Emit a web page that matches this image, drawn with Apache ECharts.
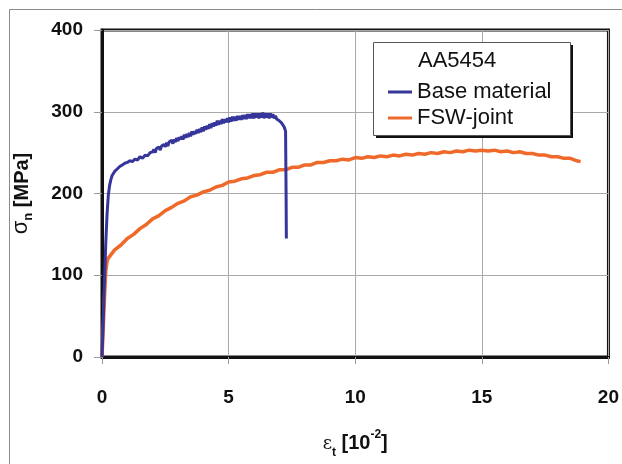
<!DOCTYPE html>
<html>
<head>
<meta charset="utf-8">
<script src="https://cdn.jsdelivr.net/npm/echarts@6/dist/echarts.min.js"></script>
<style>html,body{margin:0;padding:0;background:#fff;}#c{width:622px;height:464px;}</style>
</head>
<body>
<div id="c"></div>
<script>
// Base material (blue): strain [10^-2], stress [MPa]
var baseStrain = [0,0.05,0.1,0.15,0.2,0.25,0.3,0.35,0.4,0.5,0.6,0.7,0.8,0.9,
  1.0,1.1,1.2,1.3,1.4,1.5,1.6,1.7,1.8,1.9,
  2.00,2.05,2.10,2.15,2.20,2.25,2.30,2.35,2.40,2.45,2.50,2.55,2.60,2.65,2.70,2.75,2.80,2.85,2.90,2.95,
  3.00,3.05,3.10,3.15,3.20,3.25,3.30,3.35,3.40,3.45,3.50,3.55,3.60,3.65,3.70,3.75,3.80,3.85,3.90,3.95,
  4.00,4.05,4.10,4.15,4.20,4.25,4.30,4.35,4.40,4.45,4.50,4.55,4.60,4.65,4.70,4.75,4.80,4.85,4.90,4.95,
  5.00,5.05,5.10,5.15,5.20,5.25,5.30,5.35,5.40,5.45,5.50,5.55,5.60,5.65,5.70,5.75,5.80,5.85,5.90,5.95,
  6.00,6.05,6.10,6.15,6.20,6.25,6.30,6.35,6.40,6.45,6.50,6.55,6.60,6.65,6.70,6.75,6.80,6.85,6.90,6.95,
  7.00,7.10,7.20,7.25,7.27,7.28];
var baseStress = [0,45,95,140,175,198,210,217,222,227,230,233,235,237,
  238,240,239,242,241,245,243,247,246,250,
  251,254,250,255,253,257,253,258,256,260,257,262,258,263,261,265,261,266,263,268,
  264,269,266,270,266,272,268,273,269,274,270,276,272,276,273,278,274,279,275,281,
  276,282,278,283,279,285,280,286,282,287,283,289,284,289,285,291,286,291,287,292,
  287,293,288,294,289,294,289,295,290,295,290,296,291,296,291,297,292,297,292,298,
  292,298,293,298,292,298,293,299,292,298,293,298,292,298,293,297,292,295,291,292,
  289,286,281,276,200,145];

// FSW-joint (orange)
var fswStrain = [0,0.05,0.1,0.15,0.2,0.25,0.5,0.75,1.0,1.25,1.5,1.75,2.0,2.25,2.5,2.75,
  3.0,3.25,3.5,3.75,4.0,4.25,4.5,4.75,5.0,5.25,5.5,5.75,6.0,6.25,6.5,6.75,7.0,7.25,7.5,7.75,
  8.0,8.25,8.5,8.75,9.0,9.25,9.5,9.75,10.0,10.25,10.5,10.75,11.0,11.25,11.5,11.75,
  12.0,12.25,12.5,12.75,13.0,13.25,13.5,13.75,14.0,14.25,14.5,14.75,15.0,15.25,15.5,15.75,
  16.0,16.25,16.5,16.75,17.0,17.25,17.5,17.75,18.0,18.25,18.5,18.75,18.9];
var fswStress = [0,35,75,105,117,121,131,137,145,150,157,162,169,173,179,183,
  188,191,196,198,202,204,208,210,214,215,218,219,222,223,226,226,229,229,232,232,
  235,235,238,238,240,240,242,241,244,243,245,244,246,245,247,246,
  248,247,249,248,250,249,251,250,252,251,253,252,253,252,253,251,
  252,250,251,249,249,247,247,245,245,243,243,240,239];

var xTicks = [0, 5, 10, 15, 20];
var yTicks = [0, 100, 200, 300, 400];
var legendTitle = 'AA5454';
var seriesNames = ['Base material', 'FSW-joint'];
var colors = ['#35359b', '#ef6a2a'];

function pairs(xs, ys){ return xs.map(function(x,i){ return [x, ys[i]]; }); }

var chart = echarts.init(document.getElementById('c'), null, {renderer:'canvas'});
var F = '"Liberation Sans", Arial, sans-serif';
chart.setOption({
  backgroundColor: '#fff',
  animation: false,
  grid: {left: 102, right: 10, top: 30, bottom: 101, show: true, borderColor: '#111', borderWidth: 3, backgroundColor: 'transparent'},
  xAxis: {
    type: 'value', min: xTicks[0], max: xTicks[xTicks.length-1], interval: 5,
    axisLine: {show: true, onZero: false, lineStyle: {color: '#111', width: 3}},
    axisTick: {show: true, length: 7, lineStyle: {color: '#999'}},
    splitLine: {show: true, lineStyle: {color: '#aaa', width: 1}},
    axisLabel: {margin: 31, color: '#111', fontFamily: F, fontWeight: 'bold', fontSize: 19},
    name: '{e|ε}{s|t}{b| [10}{p|-2}{b|]}',
    nameLocation: 'middle', nameGap: 70,
    nameTextStyle: {
      rich: {
        e: {fontFamily: '"DejaVu Serif", serif', fontSize: 18, color: '#111', lineHeight: 26, verticalAlign: 'bottom'},
        s: {fontFamily: F, fontWeight: 'bold', fontSize: 12, color: '#111', lineHeight: 26, verticalAlign: 'bottom', padding: [0,0,-6,0]},
        b: {fontFamily: F, fontWeight: 'bold', fontSize: 20, color: '#111', lineHeight: 26, verticalAlign: 'bottom'},
        p: {fontFamily: F, fontWeight: 'bold', fontSize: 12, color: '#111', lineHeight: 26, verticalAlign: 'top', padding: [2,0,0,0]}
      }
    }
  },
  yAxis: {
    type: 'value', min: yTicks[0], max: yTicks[yTicks.length-1], interval: 100,
    axisLine: {show: true, onZero: false, lineStyle: {color: '#111', width: 3}},
    axisTick: {show: true, length: 8, lineStyle: {color: '#999'}},
    splitLine: {show: true, lineStyle: {color: '#aaa', width: 1}},
    axisLabel: {margin: 19, color: '#111', fontFamily: F, fontWeight: 'bold', fontSize: 19},
    name: '{g|σ}{s|n}{b| [MPa]}',
    nameLocation: 'middle', nameGap: 70, nameRotate: 90,
    nameTextStyle: {
      rich: {
        g: {fontFamily: F, fontSize: 22, color: '#111', lineHeight: 26, verticalAlign: 'bottom'},
        s: {fontFamily: F, fontWeight: 'bold', fontSize: 13, color: '#111', lineHeight: 26, verticalAlign: 'bottom', padding: [0,0,-3,0]},
        b: {fontFamily: F, fontWeight: 'bold', fontSize: 20, color: '#111', lineHeight: 26, verticalAlign: 'bottom'}
      }
    }
  },
  legend: {
    show: true, orient: 'vertical', left: 373, top: 44, z: 10,
    padding: [37, 18, 8, 15], itemGap: 4,
    itemWidth: 24, itemHeight: 3, icon: 'rect',
    backgroundColor: 'transparent', borderWidth: 0,
    textStyle: {fontFamily: F, fontSize: 22, color: '#111', lineHeight: 22},
    data: seriesNames
  },
  graphic: [
    {type: 'rect', left: 7, top: 7, z: -10, shape: {width: 640, height: 480},
     style: {fill: 'none', stroke: '#8a8a8a', lineWidth: 1}},
    {type: 'rect', left: 376, top: 45, z: 4,
     shape: {width: 197, height: 93},
     style: {fill: '#111'}},
    {type: 'rect', left: 373, top: 42, z: 5,
     shape: {width: 197, height: 93},
     style: {fill: '#fff', stroke: '#555', lineWidth: 1}},
    {type: 'text', left: 418, top: 50, z: 11,
     style: {text: legendTitle, fontFamily: F, fontSize: 22, fill: '#111'}}
  ],
  series: [
    {name: seriesNames[0], type: 'line', data: pairs(baseStrain, baseStress), showSymbol: false, symbol: 'none',
     lineStyle: {color: colors[0], width: 3}, itemStyle: {color: colors[0]}, z: 3},
    {name: seriesNames[1], type: 'line', data: pairs(fswStrain, fswStress), showSymbol: false, symbol: 'none',
     lineStyle: {color: colors[1], width: 3.5}, itemStyle: {color: colors[1]}, z: 2}
  ]
});
</script>
</body>
</html>
